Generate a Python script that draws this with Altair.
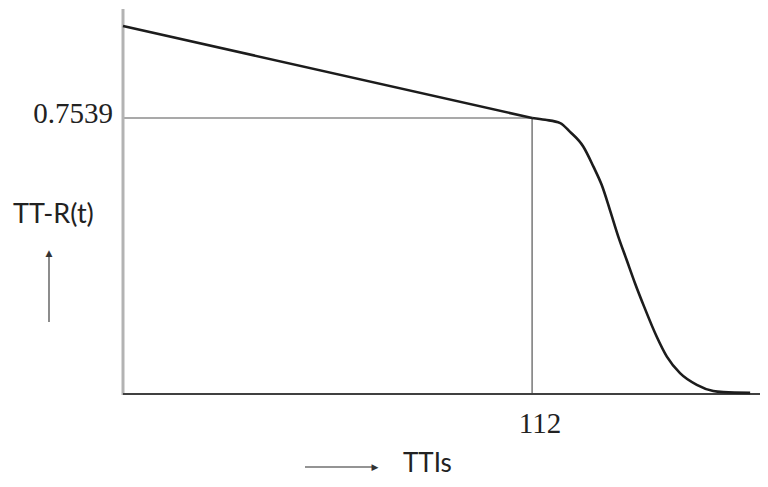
import altair as alt
import pandas as pd

# Curve
t_vals = [0, 112, 115.6, 119.7, 122.4, 126.0, 128.8, 131.1, 133.3, 135.6, 137.9, 140.2, 142.7,
          146.1, 148.9, 152.5, 157.1, 161.6, 164.4, 171.7]
r_vals = [1.005, 0.7539, 0.749, 0.740, 0.716, 0.676, 0.621, 0.570, 0.503, 0.430, 0.366, 0.302, 0.238,
          0.157, 0.102, 0.057, 0.025, 0.008, 0.005, 0.003]

t_mark = 112
r_mark = 0.7539
x_max = 174.4
y_max = 1.0516

x_label = "TTIs"
y_label = "TT-R(t)"

curve = pd.DataFrame({"t": t_vals, "r": r_vals})
xs = alt.Scale(domain=[0, x_max], nice=False, zero=False)
ys = alt.Scale(domain=[0, y_max], nice=False, zero=False)


def X(f):
    return alt.X(f, scale=xs, axis=None)


def Y(f):
    return alt.Y(f, scale=ys, axis=None)


line_lin = alt.Chart(curve).transform_filter(f"datum.t <= {t_mark}").mark_line(
    color="#1c1c1c", strokeWidth=2.6, clip=False
).encode(x=X("t:Q"), y=Y("r:Q"))

line_drop = alt.Chart(curve).transform_filter(f"datum.t >= {t_mark}").mark_line(
    color="#1c1c1c", strokeWidth=2.6, interpolate="monotone", clip=False
).encode(x=X("t:Q"), y=Y("r:Q"))

ref = pd.DataFrame({"t": [t_mark], "r": [r_mark], "t0": [0], "r0": [0]})
hline = alt.Chart(ref).mark_rule(color="#555555", strokeWidth=1.2).encode(
    x=X("t0:Q"), x2="t:Q", y=Y("r:Q")
)
vline = alt.Chart(ref).mark_rule(color="#555555", strokeWidth=1.2).encode(
    x=X("t:Q"), y=Y("r0:Q"), y2="r:Q"
)

axes_df = pd.DataFrame({"xa": [0], "xb": [x_max], "ya": [-0.003], "yb": [y_max]})
yaxis = alt.Chart(axes_df).mark_rule(color="#b3b3b3", strokeWidth=3).encode(
    x=X("xa:Q"), y=Y("ya:Q"), y2="yb:Q"
)
xaxis = alt.Chart(axes_df).mark_rule(color="#404040", strokeWidth=2).encode(
    x=X("xa:Q"), x2="xb:Q", y=alt.value(385)
)

ylab_num = alt.Chart(ref).mark_text(
    text=f"{r_mark}", font="Liberation Serif", fontSize=29, color="#222222",
    align="right", baseline="alphabetic", dx=-10, dy=5
).encode(x=X("t0:Q"), y=Y("r:Q"))

xlab_num = alt.Chart(ref).mark_text(
    text=f"{t_mark}", font="Liberation Serif", fontSize=29, color="#222222",
    align="center", baseline="alphabetic", dx=8, dy=39
).encode(x=X("t:Q"), y=Y("r0:Q"))

ytitle = alt.Chart(ref).mark_text(
    text=y_label, font="Lato", fontSize=27, color="#222222", align="left", baseline="alphabetic"
).encode(x=alt.value(-110), y=alt.value(214))

xtitle = alt.Chart(ref).mark_text(
    text=x_label, font="Lato", fontSize=26, color="#222222", align="left", baseline="alphabetic"
).encode(x=alt.value(280), y=alt.value(463))

up_shaft = alt.Chart(ref).mark_rule(color="#707070", strokeWidth=1.6).encode(
    x=alt.value(-74), y=alt.value(313), y2=alt.value(246)
)
up_head = alt.Chart(ref).mark_text(
    text="▲", font="DejaVu Sans", fontSize=9, color="#333333", align="center", baseline="middle"
).encode(x=alt.value(-74), y=alt.value(244))
right_shaft = alt.Chart(ref).mark_rule(color="#707070", strokeWidth=1.6).encode(
    x=alt.value(182), x2=alt.value(250), y=alt.value(458)
)
right_head = alt.Chart(ref).mark_text(
    text="▶", font="DejaVu Sans", fontSize=9, color="#333333", align="center", baseline="middle"
).encode(x=alt.value(252), y=alt.value(458))

chart = alt.layer(
    hline, vline, yaxis, xaxis, line_lin, line_drop, ylab_num, xlab_num, ytitle, xtitle,
    up_shaft, up_head, right_shaft, right_head
).properties(
    width=637, height=385,
    autosize=alt.AutoSizeParams(type="none"),
    padding={"left": 115, "top": 1, "right": 0, "bottom": 85},
).configure_view(strokeWidth=0)

chart.save("out.html", embed_options={"renderer": "svg", "actions": False})
